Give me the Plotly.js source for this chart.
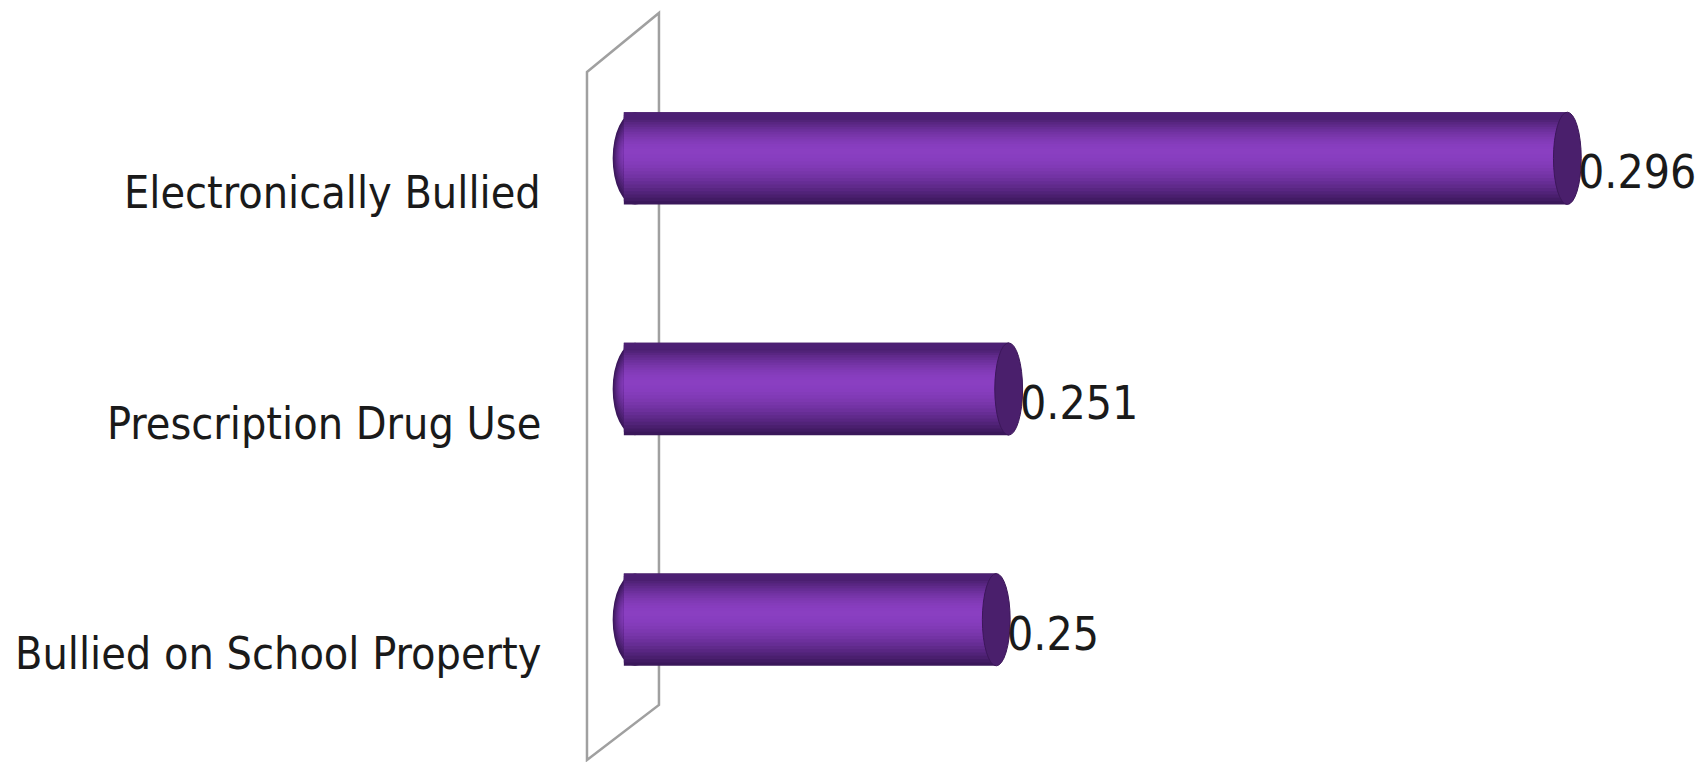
<!DOCTYPE html>
<html>
<head>
<meta charset="utf-8">
<script src="https://cdn.plot.ly/plotly-3.0.1.min.js"></script>
<style>html,body{margin:0;padding:0;background:#fff;}#chart{width:1701px;height:762px;}</style>
</head>
<body>
<div id="chart"></div>
<script>
// Data (top to bottom)
var categories = ['Electronically Bullied', 'Prescription Drug Use', 'Bullied on School Property'];
var values = [0.296, 0.251, 0.25];
var valueLabels = ['0.296', '0.251', '0.25'];
var axisMin = 0.22;

var FONT = 'DejaVu Sans Condensed, Liberation Sans Narrow, Liberation Sans, sans-serif';

// cylinder shading: colour stops top -> bottom (style only)
function hex(c){return [parseInt(c.substr(1,2),16),parseInt(c.substr(3,2),16),parseInt(c.substr(5,2),16)];}
function mix(a,b,t){var A=hex(a),B=hex(b);return 'rgb('+[0,1,2].map(function(k){return Math.round(A[k]+(B[k]-A[k])*t);}).join(',')+')';}
var edgeTop = '#4c1f73', edgeBot = '#3a175a', highlight = '#8a3fc2';
var N = 16, fullW = 0.40, hiPos = -0.03; // highlight centre shifted upward
var layers = [];
for (var k = 0; k < N; k++) {
  var t = k / N;                 // 0 = outermost, ->1 = centre
  var w = fullW * (1 - t);
  var sh = hiPos * t;
  var ease = Math.sin(t * Math.PI / 2);
  layers.push([w, mix(edgeBot, highlight, ease), sh]);
}

var traces = [];
var shapes = [];
layers.forEach(function (L) {
  var w = L[0], col = L[1], sh = L[2];
  traces.push({
    type: 'bar', orientation: 'h',
    y: categories,
    x: values.map(function (v) { return v - axisMin; }),
    base: axisMin,
    width: w,
    offset: -w / 2 + sh,
    marker: {color: col, line: {width: 0}},
    hoverinfo: 'skip', showlegend: false
  });
});
// top edge darker band
traces.push({
  type: 'bar', orientation: 'h', y: categories,
  x: values.map(function (v) { return v - axisMin; }), base: axisMin,
  width: 0.03, offset: -0.2, marker: {color: edgeTop, line: {width: 0}},
  hoverinfo: 'skip', showlegend: false
});

// left rounded ends (behind the body)
var capCx = axisMin + 0.0009, capHx = 0.0018;
categories.forEach(function (c, i) {
  layers.forEach(function (L) {
    var w = L[0], col = L[1], sh = L[2];
    shapes.push({
      type: 'circle', xref: 'x', yref: 'y', layer: 'below',
      x0: capCx - capHx * Math.sqrt(w / fullW), x1: capCx + capHx * Math.sqrt(w / fullW),
      y0: i + sh - w / 2, y1: i + sh + w / 2,
      fillcolor: col, line: {width: 0}
    });
  });
});
// right end caps
values.forEach(function (v, i) {
  shapes.push({
    type: 'circle', xref: 'x', yref: 'y', layer: 'above',
    x0: v - 0.00112, x1: v + 0.00112,
    y0: i - 0.2, y1: i + 0.2,
    fillcolor: '#4a1f6c', line: {width: 1, color: '#3c175a'}
  });
});
// side wall (decoration)
shapes.push({
  type: 'path', xref: 'paper', yref: 'paper', layer: 'below',
  path: 'M -0.0118 0.958 L 0.0589 1.0434 L 0.0589 0.0434 L -0.0118 -0.0361 Z',
  line: {color: '#a0a0a0', width: 2.5}, fillcolor: 'rgba(0,0,0,0)'
});

var annotations = [];
categories.forEach(function (c, i) {
  annotations.push({
    x: 0, xref: 'paper', y: c, yref: 'y', xanchor: 'right', yanchor: 'middle',
    xshift: -56, yshift: -34, text: c, showarrow: false,
    font: {family: FONT, size: 44.5, color: '#1a1a1a'}
  });
});
values.forEach(function (v, i) {
  annotations.push({
    x: v, xref: 'x', y: categories[i], yref: 'y', xanchor: 'left', yanchor: 'middle',
    xshift: 9, yshift: -14, text: valueLabels[i], showarrow: false,
    font: {family: FONT, size: 46, color: '#1a1a1a'}
  });
});

var layout = {
  width: 1701, height: 762,
  margin: {l: 599, r: 84, t: 43, b: 27},
  paper_bgcolor: '#ffffff', plot_bgcolor: 'rgba(0,0,0,0)',
  barmode: 'overlay',
  showlegend: false,
  xaxis: {range: [0.218, 0.30], visible: false, fixedrange: true},
  yaxis: {type: 'category', range: [2.5, -0.5], showticklabels: false, showgrid: false,
          zeroline: false, showline: false, ticks: '', fixedrange: true},
  shapes: shapes,
  annotations: annotations
};

Plotly.newPlot('chart', traces, layout, {displayModeBar: false, staticPlot: true});
</script>
</body>
</html>
